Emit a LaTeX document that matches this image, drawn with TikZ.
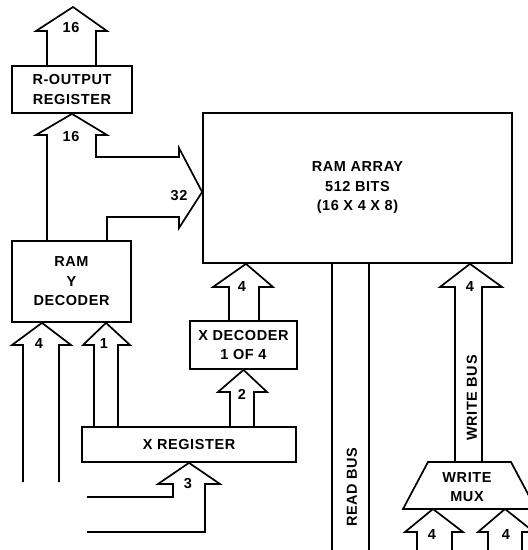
\documentclass[tikz,border=0pt]{standalone}
\usepackage{fontspec}
\setmainfont{Liberation Sans}[LetterSpace=4]
\usetikzlibrary{calc}
\tikzset{
	blocknode/.style={
			shape=rectangle,
			draw=black,
			line width=1.7pt,
			align=center,
			inner sep=0pt,
			font=\fontsize{14.5}{19.5}\selectfont\bfseries
		},
	buslabel/.style={
			inner sep=0pt,
			font=\fontsize{14.5}{16}\selectfont\bfseries
		},
	busline/.style={
			line width=1.7pt,
			line join=miter
		}
}
\begin{document}
\begin{tikzpicture}[x=1pt, y=-1pt]
  \useasboundingbox (0,0) rectangle (528,550);
  \clip (0,0) rectangle (528,550);

  % blocks
  \node[blocknode, minimum width=120pt, minimum height=47pt] (rout) at (72,89.5) {R-OUTPUT\\REGISTER};
  \node[blocknode, minimum width=309pt, minimum height=150pt] (ram) at (357.5,188) {RAM ARRAY\\512 BITS\\(16 X 4 X 8)};
  \node[blocknode, minimum width=119pt, minimum height=81pt] (ydec) at (71.5,281.5) {RAM\\Y\\DECODER};
  \node[blocknode, minimum width=107pt, minimum height=48pt] (xdec) at (243.5,345) {X DECODER\\1 OF 4};
  \node[blocknode, minimum width=214pt, minimum height=35pt] (xreg) at (189,444.5) {X REGISTER};
  \draw[busline] (403,509) -- (428,462) -- (511,462) -- (536,509) -- cycle;
  \node[blocknode, draw=none] (mux) at (467,487) {WRITE\\MUX};

  \coordinate (tip32) at (ram.west |- 0,192);

  % buses
  \draw[busline] (47,0 |- rout.north) -- (47,31) -- (36,31) -- (73,7) -- (107,31) -- (96,31) -- (96,0 |- rout.north);
  \draw[busline] (47,0 |- ydec.north) -- (47,135) -- (36,135) -- (rout.south) -- (107,135) -- (96,135) -- (96,157)
    -- (179,157) -- (179,148) -- (tip32) -- (179,228) -- (179,217) -- (107,217) -- (107,0 |- ydec.north);
  \draw[busline] (23,482) -- (23,345) -- (12,345) -- (42,0 |- ydec.south) -- (71,345) -- (59,345) -- (59,482);
  \draw[busline] (94,0 |- xreg.north) -- (94,345) -- (83,345) -- (106,0 |- ydec.south) -- (130,345) -- (118,345) -- (118,0 |- xreg.north);
  \draw[busline] (87,497) -- (173,497) -- (173,484) -- (158,484) -- (xreg.south) -- (220,484) -- (205,484) -- (205,532) -- (87,532);
  \draw[busline] (230,0 |- xreg.north) -- (230,392) -- (218,392) -- (xdec.south) -- (267,392) -- (254,392) -- (254,0 |- xreg.north);
  \draw[busline] (229,0 |- xdec.north) -- (229,287) -- (213,287) -- (246,0 |- ram.south) -- (273,287) -- (259,287) -- (259,0 |- xdec.north);
  \draw[busline] (332,0 |- ram.south) -- (332,550);
  \draw[busline] (369,0 |- ram.south) -- (369,550);
  \draw[busline] (455,462) -- (455,287) -- (440,287) -- (470,0 |- ram.south) -- (502,287) -- (482,287) -- (482,462);
  \draw[busline] (417,550) -- (417,532) -- (405,532) -- (433,509) -- (463,532) -- (452,532) -- (452,550);
  \draw[busline] (488,550) -- (488,532) -- (478,532) -- (505,509) -- (534,532) -- (522,532) -- (522,550);

  % bus labels
  \node[buslabel] (n16a) at (71,28) {16};
  \node[buslabel] (n16b) at (71,137) {16};
  \node[buslabel] (n32) at (179,196) {32};
  \node[buslabel] (n4y) at (39,344) {4};
  \node[buslabel] (n1) at (104,344) {1};
  \node[buslabel] (n3) at (188,484) {3};
  \node[buslabel] (n2) at (242,394) {2};
  \node[buslabel] (n4x) at (242,287) {4};
  \node[buslabel] (n4w) at (470,287) {4};
  \node[buslabel] (n4m1) at (432,535) {4};
  \node[buslabel] (n4m2) at (506,535) {4};
  \node[buslabel, rotate=90] (rbus) at (352,487) {READ BUS};
  \node[buslabel, rotate=90] (wbus) at (472,398) {WRITE BUS};

\end{tikzpicture}
\end{document}
